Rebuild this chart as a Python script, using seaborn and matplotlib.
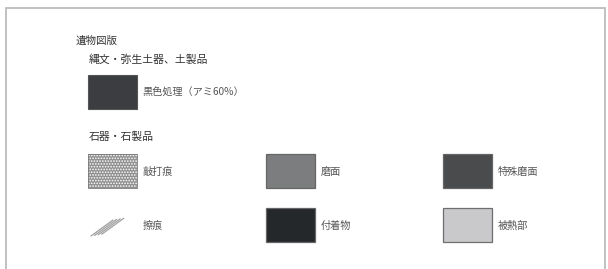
import numpy as np
import matplotlib
matplotlib.use("Agg")
import matplotlib.pyplot as plt
from matplotlib.patches import Rectangle
import seaborn as sns

# legend content
title = "遺物図版"
pottery_heading = "縄文・弥生土器、土製品"
pottery_label = "黒色処理（アミ60%）"
pottery_color = "#3b3d40"
stone_heading = "石器・石製品"
stone_labels = ["敲打痕", "磨面", "特殊磨面", "擦痕", "付着物", "被熱部"]
stone_fills = ["texture", "#7b7d7e", "#4a4b4d", "lines", "#25282b", "#c9c9cb"]

sns.set_theme(style="white")
plt.rcParams["font.family"] = ["Noto Sans CJK JP", "DejaVu Sans"]
plt.rcParams["hatch.linewidth"] = 0.8
plt.rcParams["hatch.color"] = "#e4e4e4"

fig = plt.figure(figsize=(6.08, 2.69), dpi=100)
ax = fig.add_axes([0, 0, 1, 1])
ax.set_xlim(0, 608)
ax.set_ylim(269, 0)
ax.axis("off")

# outer frame
ax.add_patch(Rectangle((6, 7.5), 599, 262, fill=False, edgecolor="#bcbcbc", lw=1.3))

ax.text(76, 41, title, fontsize=7.6, color="#333333", va="center")
ax.text(89, 60, pottery_heading, fontsize=7.8, color="#333333", va="center")
ax.add_patch(Rectangle((88, 75), 49, 34, facecolor=pottery_color, edgecolor="#555555", lw=0.8))
ax.text(142, 92, pottery_label, fontsize=7.3, color="#555555", va="center")
ax.text(89, 137, stone_heading, fontsize=7.8, color="#333333", va="center")

col_x = [88, 266, 443]
row_y = [154, 208]
w, h = 49, 34
for i, (lab, fill) in enumerate(zip(stone_labels, stone_fills)):
    x0 = col_x[i % 3]
    y0 = row_y[i // 3]
    if fill == "texture":
        ax.add_patch(Rectangle((x0, y0), w, h, facecolor="#8f8f8f", lw=0, hatch="......"))
        ax.add_patch(Rectangle((x0, y0), w, h, fill=False, edgecolor="#7a7a7a", lw=0.6))
    elif fill == "lines":
        for k in range(4):
            dx = k * 3.6
            ax.plot([x0 + 3 + dx, x0 + 25 + dx], [y0 + 28 - k * 0.6, y0 + 12 - k * 0.6],
                    color="#a0a0a0", lw=0.9)
    else:
        edge = "#6e6e6e" if fill == "#c9c9cb" else "#666666"
        ax.add_patch(Rectangle((x0, y0), w, h, facecolor=fill, edgecolor=edge, lw=0.9))
    ax.text(x0 + 55, y0 + 18, lab, fontsize=7.3, color="#555555", va="center")

fig.savefig("out.png", dpi=100)
